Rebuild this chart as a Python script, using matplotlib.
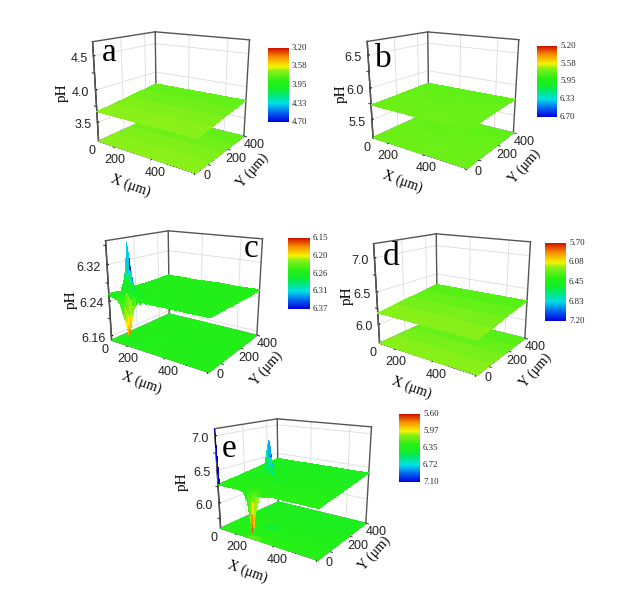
import numpy as np
import matplotlib
matplotlib.use("Agg")
import matplotlib.pyplot as plt
from matplotlib.colors import LinearSegmentedColormap, Normalize
from mpl_toolkits.mplot3d import proj3d

W, H = 641, 591
fig = plt.figure(figsize=(W / 100, H / 100), dpi=100, facecolor="white")
SANS = "Liberation Sans"
SERIF = "Liberation Serif"

CMAP = LinearSegmentedColormap.from_list("ph", [
    (0.00, "#0000e0"), (0.12, "#0060f0"), (0.25, "#00e0e8"), (0.36, "#00e878"),
    (0.45, "#14ee28"), (0.55, "#28f014"), (0.69, "#8cf019"), (0.75, "#f5f500"),
    (0.88, "#f89000"), (1.00, "#d01000")])

# --- panel data -------------------------------------------------------
x_flat = [0, 125, 250, 375, 500]
y_flat = [0, 125, 250, 375, 500]
z_a = [[3.670, 3.670, 3.665, 3.670, 3.670], [3.695, 3.695, 3.690, 3.695, 3.690], [3.725, 3.730, 3.725, 3.725, 3.725],
       [3.755, 3.755, 3.755, 3.755, 3.755], [3.785, 3.785, 3.785, 3.785, 3.785]]
z_b = [[5.735, 5.735, 5.730, 5.735, 5.735], [5.740, 5.740, 5.740, 5.740, 5.735], [5.750, 5.755, 5.750, 5.750, 5.750],
       [5.760, 5.760, 5.760, 5.760, 5.760], [5.765, 5.765, 5.765, 5.765, 5.765]]
z_d = [[6.18, 6.18, 6.175, 6.18, 6.18], [6.21, 6.21, 6.205, 6.21, 6.205], [6.245, 6.25, 6.245, 6.245, 6.245],
       [6.28, 6.28, 6.28, 6.28, 6.28], [6.31, 6.31, 6.31, 6.31, 6.31]]

x_c = [0, 20, 45, 65, 80, 90, 100, 110, 118, 126, 140, 155, 175, 200, 225, 300, 400, 500]
y_c = [0, 6, 12, 20, 26, 32, 38, 50, 70, 100, 150, 200, 300, 400, 500]
z_c = [
 [6.255, 6.262, 6.250, 6.240, 6.218, 6.205, 6.190, 6.172, 6.188, 6.205, 6.235, 6.262, 6.250, 6.258, 6.254, 6.255, 6.255, 6.256],
 [6.258, 6.250, 6.246, 6.242, 6.225, 6.214, 6.202, 6.190, 6.202, 6.218, 6.240, 6.248, 6.258, 6.252, 6.256, 6.255, 6.256, 6.255],
 [6.250, 6.258, 6.252, 6.248, 6.238, 6.230, 6.222, 6.214, 6.224, 6.240, 6.250, 6.256, 6.254, 6.257, 6.255, 6.256, 6.255, 6.256],
 [6.256, 6.252, 6.256, 6.258, 6.262, 6.266, 6.264, 6.250, 6.255, 6.262, 6.258, 6.264, 6.252, 6.260, 6.255, 6.255, 6.256, 6.255],
 [6.252, 6.258, 6.260, 6.270, 6.290, 6.320, 6.305, 6.285, 6.268, 6.272, 6.266, 6.270, 6.258, 6.254, 6.256, 6.256, 6.255, 6.256],
 [6.256, 6.252, 6.262, 6.285, 6.315, 6.368, 6.338, 6.305, 6.285, 6.276, 6.270, 6.274, 6.252, 6.260, 6.255, 6.255, 6.256, 6.255],
 [6.254, 6.258, 6.260, 6.272, 6.295, 6.330, 6.312, 6.290, 6.272, 6.268, 6.262, 6.266, 6.258, 6.254, 6.256, 6.256, 6.255, 6.256],
 [6.256, 6.252, 6.258, 6.260, 6.264, 6.272, 6.268, 6.264, 6.260, 6.258, 6.262, 6.258, 6.256, 6.258, 6.255, 6.255, 6.256, 6.255],
 [6.254, 6.258, 6.256, 6.258, 6.256, 6.258, 6.256, 6.258, 6.256, 6.258, 6.254, 6.260, 6.255, 6.254, 6.256, 6.256, 6.255, 6.256],
 [6.255, 6.255, 6.258, 6.256, 6.255, 6.257, 6.255, 6.256, 6.255, 6.257, 6.255, 6.257, 6.254, 6.256, 6.255, 6.255, 6.256, 6.255],
 [6.255, 6.256, 6.255, 6.256, 6.255, 6.256, 6.255, 6.256, 6.255, 6.256, 6.255, 6.255, 6.256, 6.255, 6.256, 6.256, 6.255, 6.256],
 [6.256, 6.255, 6.256, 6.255, 6.256, 6.255, 6.256, 6.255, 6.256, 6.255, 6.255, 6.255, 6.255, 6.256, 6.255, 6.255, 6.256, 6.255],
 [6.255, 6.256, 6.255, 6.256, 6.255, 6.256, 6.255, 6.256, 6.255, 6.256, 6.255, 6.255, 6.256, 6.255, 6.256, 6.256, 6.255, 6.256],
 [6.256, 6.255, 6.256, 6.255, 6.256, 6.255, 6.256, 6.255, 6.256, 6.255, 6.255, 6.255, 6.255, 6.256, 6.255, 6.255, 6.256, 6.255],
 [6.257, 6.257, 6.256, 6.257, 6.256, 6.257, 6.256, 6.257, 6.256, 6.257, 6.256, 6.256, 6.256, 6.257, 6.257, 6.258, 6.257, 6.258],
]

x_e = [0, 5, 100, 140, 160, 172, 180, 188, 192, 200, 225, 300, 400, 500]
y_e = [0, 5, 10, 15, 25, 35, 50, 120, 135, 145, 150, 155, 165, 180, 300, 500]
e_plane_y = [6.285, 6.285, 6.29, 6.29, 6.29, 6.295, 6.30, 6.315, 6.32, 6.32, 6.32, 6.32, 6.325, 6.33, 6.36, 6.41]
e_relief = [
 [0.81, 0.00, 0.00, 0.00, -.05, -.23, -.41, -.60, -.41, -.23, -.02, 0.00, 0.00, 0.00],
 [0.41, 0.00, 0.00, -.02, -.14, -.37, -.50, -.41, -.52, -.33, -.04, 0.00, 0.00, 0.00],
 [0.00, 0.00, 0.00, -.02, -.10, -.23, -.33, -.27, -.37, -.21, -.02, 0.00, 0.00, 0.00],
 [0.00, 0.00, 0.00, -.01, -.04, -.11, -.15, -.13, -.17, -.09, -.01, 0.00, 0.00, 0.00],
 [0.00, 0.00, 0.00, 0.00, -.01, -.04, -.06, -.05, -.07, -.04, 0.00, 0.00, 0.00, 0.00],
 [0.00, 0.00, 0.00, 0.00, 0.00, -.01, -.01, -.01, -.01, 0.00, 0.00, 0.00, 0.00, 0.00],
 [0.00] * 14,
 [0.00] * 14,
 [0.00, 0.00, 0.00, 0.02, 0.10, 0.18, 0.22, 0.18, 0.12, 0.06, 0.01, 0.00, 0.00, 0.00],
 [0.00, 0.00, 0.00, 0.05, 0.22, 0.38, 0.48, 0.38, 0.26, 0.12, 0.02, 0.00, 0.00, 0.00],
 [0.00, 0.00, 0.00, 0.08, 0.30, 0.50, 0.62, 0.50, 0.34, 0.16, 0.03, 0.00, 0.00, 0.00],
 [0.00, 0.00, 0.00, 0.05, 0.22, 0.38, 0.48, 0.38, 0.26, 0.12, 0.02, 0.00, 0.00, 0.00],
 [0.00, 0.00, 0.00, 0.02, 0.10, 0.18, 0.22, 0.18, 0.12, 0.06, 0.01, 0.00, 0.00, 0.00],
 [0.00, 0.00, 0.00, 0.00, 0.02, 0.04, 0.05, 0.04, 0.02, 0.01, 0.00, 0.00, 0.00, 0.00],
 [0.00] * 14,
 [0.00] * 14,
]
z_e = (np.array(e_relief) + np.array(e_plane_y)[:, None]).tolist()

panels = [
    dict(name="a", x=x_flat, y=y_flat, z=z_a, zlim=(3.2, 4.7), zticks=[3.5, 4.0, 4.5], zminor=[3.75, 4.25], zfmt="%.1f",
         floor_clip=1, cbar=["3.20", "3.58", "3.95", "4.33", "4.70"], center=(170, 94), size=177,
         cb=(268, 48, 289, 122), letter=(109, 53), xlab=(131, 186), ylab=(253, 170), phl=(62, 93)),
    dict(name="b", x=x_flat, y=y_flat, z=z_b, zlim=(5.2, 6.7), zticks=[5.5, 6.0, 6.5], zminor=[5.75, 6.25], zfmt="%.1f",
         floor_clip=1, cbar=["5.20", "5.58", "5.95", "6.33", "6.70"], center=(442, 92), size=171,
         cb=(537, 46, 557, 117), letter=(383, 59), xlab=(403, 182), ylab=(525, 166), phl=(341, 94)),
    dict(name="c", x=x_c, y=y_c, z=z_c, zlim=(6.15, 6.37), zticks=[6.16, 6.24, 6.32], zminor=[6.20, 6.28, 6.36], zfmt="%.2f",
         floor_clip=0.004, cbar=["6.15", "6.20", "6.26", "6.31", "6.37"], center=(183, 293), size=177,
         cb=(288, 238, 310, 309), letter=(251, 249), xlab=(142, 383), ylab=(267, 368), phl=(71, 300)),
    dict(name="d", x=x_flat, y=y_flat, z=z_d, zlim=(5.7, 7.2), zticks=[6.0, 6.5, 7.0], zminor=[6.25, 6.75], zfmt="%.1f",
         floor_clip=1, cbar=["5.70", "6.08", "6.45", "6.83", "7.20"], center=(451, 296), size=177,
         cb=(545, 243, 566, 321), letter=(391, 257), xlab=(412, 388), ylab=(536, 370), phl=(347, 296)),
    dict(name="e", x=x_e, y=y_e, z=z_e, zlim=(5.6, 7.1), zticks=[6.0, 6.5, 7.0], zminor=[5.75, 6.25, 6.75], zfmt="%.1f",
         floor_clip=0.15, cbar=["5.60", "5.97", "6.35", "6.72", "7.10"], center=(292, 481), size=177,
         cb=(399, 414, 420, 482), letter=(229, 449), xlab=(248, 572), ylab=(375, 553), phl=(182, 482)),
]
xy_ticks = [0, 200, 400]
xy_minor = [100, 300, 500]


def fx(px):
    return px / W


def fy(py):
    return 1 - py / H


def draw_panel(p):
    s = p["size"]
    cx, cy = p["center"]
    ax = fig.add_axes([fx(cx - s / 2), fy(cy + s / 2), s / W, s / H], projection="3d", computed_zorder=False)
    ax.patch.set_alpha(0)
    ax.view_init(elev=16, azim=-55)
    ax.set_proj_type("persp", focal_length=0.38)
    ax.set_box_aspect((1.2, 1.0, 1.05), zoom=1.0)
    xs, ys, zs = np.array(p["x"], float), np.array(p["y"], float), np.array(p["z"], float)
    zmin, zmax = p["zlim"]
    ax.set_xlim(0, 500); ax.set_ylim(0, 500); ax.set_zlim(zmin, zmax)
    X, Y = np.meshgrid(xs, ys)
    norm = Normalize(zmin, zmax)
    colors = CMAP(1 - norm(zs))
    level = np.median(zs)
    floor_colors = CMAP(1 - norm(np.clip(zs, level - p["floor_clip"], level + p["floor_clip"])))
    for axis in (ax.xaxis, ax.yaxis, ax.zaxis):
        axis.set_pane_color((1, 1, 1, 0))
        axis.pane.set_edgecolor((1, 1, 1, 0))
        axis._axinfo["grid"].update(color="#dcdcdc", linewidth=0.6)
        axis._axinfo["tick"].update(inward_factor=0.0, outward_factor=0.2, linewidth={True: 0.9, False: 0.5})
        axis.line.set_color("#222222")
        axis.line.set_linewidth(1.0)
    ax.zaxis.set_ticks_position("lower")
    frame = "#555555"
    for a, b in [((0, 500, zmax), (0, 0, zmax)), ((0, 500, zmax), (500, 500, zmax)),
                 ((0, 500, zmin), (0, 500, zmax)), ((500, 500, zmin), (500, 500, zmax)),
                 ((0, 0, zmin), (0, 0, zmax)), ((0, 500, zmin), (500, 500, zmin)),
                 ((0, 500, zmin), (0, 0, zmin))]:
        ax.plot(*zip(a, b), color=frame, lw=1.0, zorder=1)
    # minor tick marks
    for v in xy_minor:
        ax.plot([v, v], [0, -14], [zmin, zmin], color="#222222", lw=0.6, zorder=1)
        ax.plot([500, 514], [v, v], [zmin, zmin], color="#222222", lw=0.6, zorder=1)
    for v in p["zminor"]:
        ax.plot([0, -14], [0, 0], [v, v], color="#222222", lw=0.6, zorder=1)
    ax.plot_surface(X, Y, np.full_like(zs, zmin), facecolors=floor_colors, rstride=1, cstride=1, shade=False,
                    linewidth=0, antialiased=False, zorder=2)
    ax.plot_surface(X, Y, zs, facecolors=colors, rstride=1, cstride=1, shade=False,
                    linewidth=0, antialiased=False, zorder=3)
    ax.set_xticks(xy_ticks); ax.set_yticks(xy_ticks); ax.set_zticks(p["zticks"])
    ax.set_xticklabels([]); ax.set_yticklabels([]); ax.set_zticklabels([])

    M = ax.get_proj()

    def tick_label(x, y, z, text, dx, dy, ha):
        px, py, _ = proj3d.proj_transform(x, y, z, M)
        ax.annotate(text, xy=(px, py), xycoords="data", xytext=(dx, dy), textcoords="offset pixels",
                    ha=ha, va="center", fontsize=9, family=SANS, color="#222222", annotation_clip=False)

    for v in xy_ticks:
        if v == 0:
            tick_label(v, 0, zmin, str(v), -3, -10, "right")
        else:
            tick_label(v, 0, zmin, str(v), -8, -7, "right")
        tick_label(500, v, zmin, str(v), 8, -3, "left")
    for v in p["zticks"]:
        tick_label(0, 0, v, p["zfmt"] % v, -6, -3, "right")

    fig.text(fx(p["letter"][0]), fy(p["letter"][1]), p["name"], fontsize=24, family=SERIF, ha="center", va="center")
    fig.text(fx(p["xlab"][0]), fy(p["xlab"][1]), "X (\u03bcm)", fontsize=10, family=[SERIF, "DejaVu Serif"],
             rotation=-20, ha="center", va="center", rotation_mode="anchor")
    fig.text(fx(p["ylab"][0]), fy(p["ylab"][1]), "Y (\u03bcm)", fontsize=10, family=[SERIF, "DejaVu Serif"],
             rotation=48, ha="center", va="center", rotation_mode="anchor")
    fig.text(fx(p["phl"][0]), fy(p["phl"][1]), "pH", fontsize=11, family=SERIF, rotation=90, ha="center", va="center")

    x0, y0, x1, y1 = p["cb"]
    cax = fig.add_axes([fx(x0), fy(y1), (x1 - x0) / W, (y1 - y0) / H])
    cax.imshow(np.linspace(1, 0, 256)[:, None], cmap=CMAP, aspect="auto", vmin=0, vmax=1)
    cax.set_axis_off()
    for i, lab in enumerate(p["cbar"]):
        fig.text(fx(x1 + 3), fy(y0 + (y1 - y0) * i / 4), lab, fontsize=6.3, family=SERIF, ha="left", va="center",
                 color="#222222")


for panel in panels:
    draw_panel(panel)

fig.savefig("out.png", dpi=100)
